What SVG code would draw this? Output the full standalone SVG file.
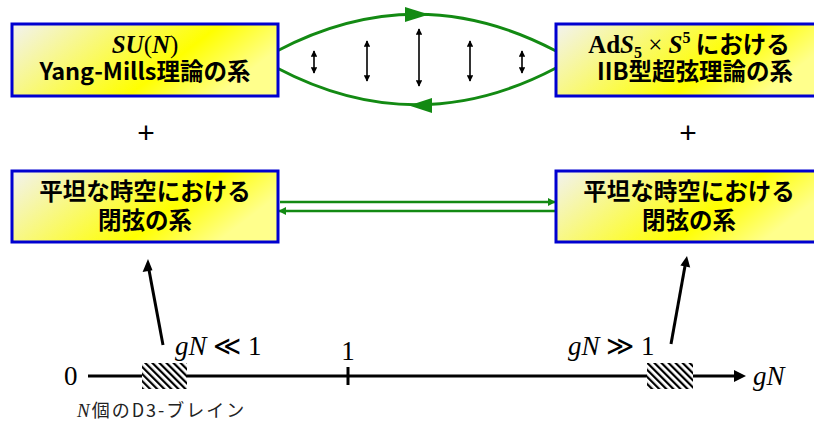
<svg xmlns="http://www.w3.org/2000/svg" width="814" height="421" viewBox="0 0 814 421">
<defs>
<linearGradient id="boxfill" x1="0" y1="0" x2="1" y2="0.35">
<stop offset="0" stop-color="#f2f2f2"/>
<stop offset="0.7" stop-color="#ffff00"/>
<stop offset="1" stop-color="#ffff8c"/>
</linearGradient>
<pattern id="hatch" width="5" height="5" patternUnits="userSpaceOnUse" patternTransform="rotate(-45)">
<rect width="5" height="5" fill="#fff"/>
<rect x="0" y="0" width="2.2" height="5" fill="#000"/>
</pattern>
<marker id="blkS" viewBox="0 0 10 10" refX="9" refY="5" markerWidth="4" markerHeight="4" orient="auto-start-reverse" markerUnits="strokeWidth">
<path d="M0,0 L10,5 L0,10 Z" fill="#000"/>
</marker>
<marker id="grn" viewBox="0 0 10 10" refX="9" refY="5" markerWidth="3.2" markerHeight="3.2" orient="auto" markerUnits="strokeWidth">
<path d="M0,0 L10,5 L0,10 Z" fill="#138a13"/>
</marker>
</defs>
<style>
.box{fill:url(#boxfill);stroke:#0000d0;stroke-width:3}
.jp{font-family:"Noto Sans CJK JP","Noto Sans",sans-serif;font-weight:bold;font-size:23.5px;fill:#000;text-anchor:middle}
.mt{font-family:"Liberation Serif","DejaVu Serif",serif}
.math{font-family:"Liberation Serif","DejaVu Serif",serif;font-size:27px;fill:#000}
.it{font-style:italic}
.gc{fill:none;stroke:#138a13;stroke-width:3}
.va{stroke:#000;stroke-width:1.6;marker-start:url(#blkS);marker-end:url(#blkS)}
.ax{stroke:#000;stroke-width:3;fill:none}
</style>

<g id="connectors">
<path class="gc" d="M277,51 C370,2 463,2 556,51"/>
<path d="M405,7 L429,14.5 L405,22 Z" fill="#138a13"/>
<path class="gc" d="M277,68 C370,117 463,117 556,68"/>
<path d="M432,98 L409,105.5 L432,113 Z" fill="#138a13"/>
<line class="va" x1="314" y1="51" x2="314" y2="73"/>
<line class="va" x1="367" y1="41" x2="367" y2="81"/>
<line class="va" x1="419" y1="29" x2="419" y2="86"/>
<line class="va" x1="470" y1="41" x2="470" y2="81"/>
<line class="va" x1="522" y1="51" x2="522" y2="73"/>
<line stroke="#138a13" stroke-width="2.5" x1="280" y1="202" x2="555" y2="202" marker-end="url(#grn)"/>
<line stroke="#138a13" stroke-width="2.5" x1="555" y1="211" x2="279" y2="211" marker-end="url(#grn)"/>
<line class="ax" x1="88" y1="376" x2="738" y2="376"/>
<path d="M734,370 L746,376 L734,382 Z" fill="#000"/>
<line class="ax" x1="348" y1="367" x2="348" y2="385"/>
<line stroke="#000" stroke-width="3" x1="163" y1="345" x2="149" y2="270"/>
<path d="M142.6,272 L148,259 L152.5,270.2 Z" fill="#000"/>
<line stroke="#000" stroke-width="3" x1="671" y1="344" x2="685" y2="266"/>
<path d="M680.4,265.6 L687,256 L690.2,267.4 Z" fill="#000"/>
</g>

<g id="node-ym">
<rect class="box" x="12" y="24" width="266" height="72"/>
<text x="145" y="53" class="jp"><tspan class="mt it" font-size="25">SU</tspan><tspan class="mt" font-size="25" font-weight="normal">(</tspan><tspan class="mt it" font-size="25">N</tspan><tspan class="mt" font-size="25" font-weight="normal">)</tspan></text>
<text x="145" y="80" class="jp">Yang-Mills理論の系</text>
</g>

<g id="node-ads">
<rect class="box" x="556" y="24" width="266" height="72"/>
<text x="689" y="53" class="jp"><tspan class="mt" font-size="25">Ad</tspan><tspan class="mt it" font-size="25">S</tspan><tspan class="mt" font-size="16" dy="5">5</tspan><tspan class="mt" font-size="25" font-weight="normal" dy="-5"> × </tspan><tspan class="mt it" font-size="25">S</tspan><tspan class="mt" font-size="16" dy="-10">5</tspan><tspan dy="10"> における</tspan></text>
<text x="695" y="80" class="jp">IIB型超弦理論の系</text>
</g>

<g id="plus-left"><text x="146" y="143" font-family="Liberation Sans,sans-serif" font-size="30" text-anchor="middle">+</text></g>
<g id="plus-right"><text x="688" y="143" font-family="Liberation Sans,sans-serif" font-size="30" text-anchor="middle">+</text></g>

<g id="node-flat-left">
<rect class="box" x="12" y="171" width="266" height="71"/>
<text x="145" y="200" class="jp">平坦な時空における</text>
<text x="145" y="229" class="jp">閉弦の系</text>
</g>

<g id="node-flat-right">
<rect class="box" x="556" y="171" width="266" height="71"/>
<text x="689" y="200" class="jp">平坦な時空における</text>
<text x="689" y="229" class="jp">閉弦の系</text>
</g>

<g id="brane-left"><rect x="142" y="363" width="45" height="26" fill="url(#hatch)"/></g>
<g id="brane-right"><rect x="647" y="363" width="46" height="26" fill="url(#hatch)"/></g>

<g id="labels">
<text x="64" y="385" class="math">0</text>
<text x="348" y="360" class="math" text-anchor="middle">1</text>
<text x="175" y="355" class="math"><tspan class="it">gN</tspan> ≪ 1</text>
<text x="568" y="355" class="math"><tspan class="it">gN</tspan> ≫ 1</text>
<text x="753" y="385" class="math it">gN</text>
<text x="77" y="417" font-family="Noto Sans CJK JP,sans-serif" font-size="18" letter-spacing="2" fill="#222"><tspan class="mt it" font-size="19">N</tspan>個のD3-ブレイン</text>
</g>
</svg>
